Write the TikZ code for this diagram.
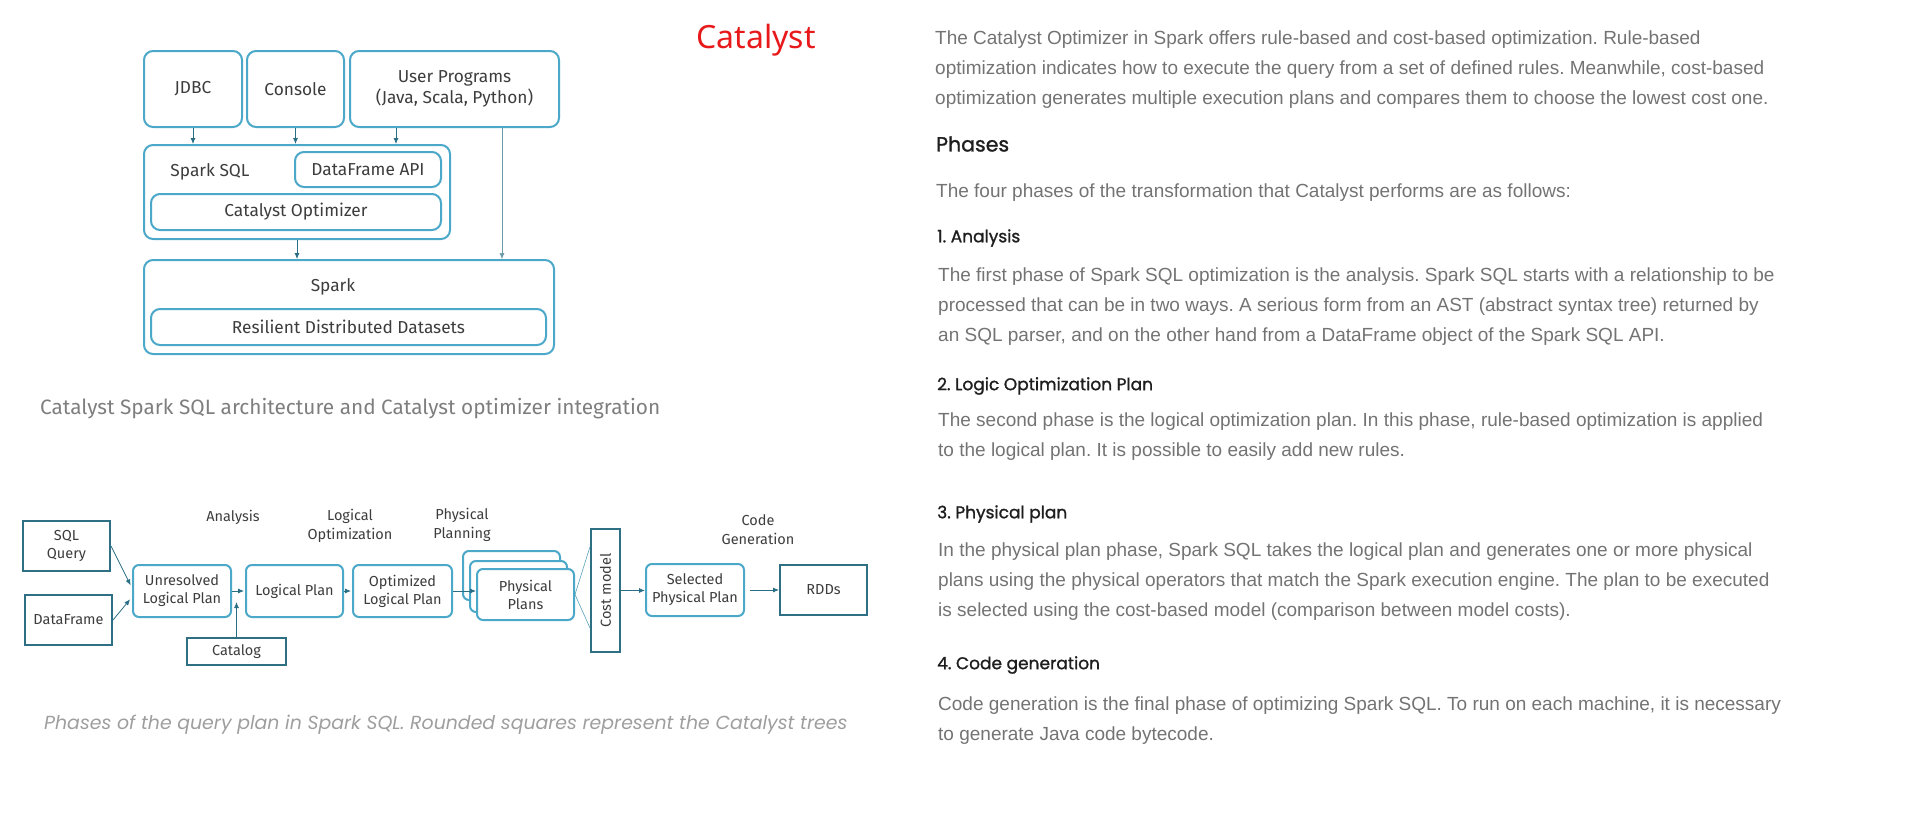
\documentclass[tikz,border=0pt]{standalone}
\usepackage{fontspec}
\usepackage{graphicx}
\setmainfont{Liberation Sans}
\newfontfamily\diafont{Fira Sans}
\newfontfamily\headfont[FakeBold=1.2]{Poppins}
\newfontfamily\capfont{Poppins}
\newfontfamily\titlefont{Noto Sans}
\usetikzlibrary{arrows.meta,calc,positioning}
\definecolor{lightblue}{HTML}{4BA8C8}
\definecolor{darkteal}{HTML}{2E6F84}
\definecolor{arrowteal}{HTML}{2A6E85}
\definecolor{diatext}{HTML}{3D3D3D}
\definecolor{bodygray}{HTML}{737373}
\definecolor{headgray}{HTML}{1E1E1E}
\definecolor{capgray}{HTML}{7E7E7E}
\definecolor{catred}{HTML}{E8191B}

\tikzset{
    topbox/.style={draw=lightblue, line width=2, rounded corners=9, fill=white,
        text=diatext, font=\diafont\fontsize{17.3}{21}\selectfont, align=center, inner sep=0},
    planbox/.style={draw=lightblue, line width=2, rounded corners=6, fill=white,
        text=diatext, font=\diafont\fontsize{14.5}{18}\selectfont, align=center, inner sep=0},
    sqbox/.style={draw=darkteal, line width=2, fill=white,
        text=diatext, font=\diafont\fontsize{14.5}{18}\selectfont, align=center, inner sep=0},
    phase/.style={text=diatext, font=\diafont\fontsize{14.5}{19}\selectfont, align=center, inner sep=0},
    arr/.style={draw=arrowteal, line width=0.8, -{Latex[length=6pt,width=5pt]}},
    thinarr/.style={draw=arrowteal!70, line width=0.6, -{Latex[length=6pt,width=5pt]}},
    fan/.style={draw=lightblue!80!gray, line width=0.6},
    body/.style={anchor=west, inner sep=0, align=left, text=bodygray,
        font=\fontsize{19}{30}\selectfont},
    heading/.style={anchor=west, inner sep=0, text=headgray,
        font=\headfont\fontsize{17}{20}\selectfont}
}

\begin{document}
\frenchspacing
\begin{tikzpicture}[x=1pt, y=-1pt]
    \useasboundingbox (0, 0) rectangle (1914, 817);

    % architecture: clients
    \node[topbox, minimum width=98, minimum height=76] (jdbc) at (193, 89) {JDBC};
    \node[topbox, minimum width=97, minimum height=76] (console) at (295.5, 89) {Console};
    \node[topbox, minimum width=209, minimum height=76] (userprog) at (454.5, 89)
        {User Programs\\(Java, Scala, Python)};
    % spark sql layer
    \node[topbox, minimum width=306, minimum height=94] (sqlbox) at (297, 192) {};
    \node[text=diatext, font=\diafont\fontsize{17.3}{21}\selectfont] (sqllabel) at (210, 172) {Spark SQL};
    \node[topbox, minimum width=146, minimum height=35] (dfapi) at (368, 169.5) {DataFrame API};
    \node[topbox, minimum width=290, minimum height=36] (catopt) at (296, 212) {Catalyst Optimizer};
    % spark layer
    \node[topbox, minimum width=410, minimum height=94] (spark) at (349, 307) {};
    \node[text=diatext, font=\diafont\fontsize{17.3}{21}\selectfont] (sparklabel) at (333, 287) {Spark};
    \node[topbox, minimum width=395, minimum height=36] (rdd) at (348.5, 327)
        {Resilient Distributed Datasets};
    % architecture arrows
    \foreach \src in {jdbc, console}{
        \draw[arr] (\src.south) -- (\src.south |- sqlbox.north);
    }
    \coordinate (upin) at ([xshift=-58.5]userprog.south);
    \coordinate (upout) at ([xshift=47.5]userprog.south);
    \draw[arr] (upin) -- (upin |- sqlbox.north);
    \draw[arr] (sqlbox.south) -- (sqlbox.south |- spark.north);
    \draw[thinarr] (upout) -- (upout |- spark.north);

    \node[anchor=west, inner sep=0, text=capgray, font=\diafont\fontsize{20.8}{24}\selectfont] (cap1)
        at (40, 409) {Catalyst Spark SQL architecture and Catalyst optimizer integration};

    % query plan phases: inputs
    \node[sqbox, minimum width=87, minimum height=50] (sqlq) at (66.5, 546) {SQL\\Query};
    \node[sqbox, minimum width=87, minimum height=50] (dframe) at (68.5, 620) {DataFrame};
    \node[sqbox, minimum width=99, minimum height=27] (catalog) at (236.5, 651.5) {Catalog};
    % plans
    \node[planbox, minimum width=98, minimum height=52] (unres) at (182, 591) {Unresolved\\Logical Plan};
    \node[planbox, minimum width=97, minimum height=52] (logical) at (294.5, 591) {Logical Plan};
    \node[planbox, minimum width=99, minimum height=52] (optim) at (402.5, 591) {Optimized\\Logical Plan};
    \node[planbox, minimum width=97, minimum height=49] (phys3) at (511.5, 575.5) {};
    \node[planbox, minimum width=97, minimum height=51] (phys2) at (518.5, 586.5) {};
    \node[planbox, minimum width=97, minimum height=51] (phys1) at (525.5, 594.5) {Physical\\Plans};
    \node[sqbox, minimum width=29, minimum height=123] (cost) at (605.5, 590.5)
        {\rotatebox{90}{Cost model}};
    \node[planbox, minimum width=98, minimum height=52] (selected) at (695, 590) {Selected\\Physical Plan};
    \node[sqbox, minimum width=87, minimum height=50] (rdds) at (823.5, 590) {RDDs};
    % phase labels
    \node[phase] (analysis) at (233, 517) {Analysis};
    \node[phase] (logopt) at (350, 526) {Logical\\Optimization};
    \node[phase] (physplan) at (462, 525) {Physical\\Planning};
    \node[phase] (codegen) at (758, 530) {Code\\Generation};
    % plan arrows
    \coordinate (catin) at (236.5, 602);
    \draw[arr, shorten >=3pt] (sqlq.east) -- ([yshift=3]unres.west);
    \draw[arr, shorten >=3pt] (dframe.east) -- ([yshift=-6]unres.west);
    \draw[arr, shorten >=1pt] (unres) -- (logical);
    \draw[arr] (catalog) -- (catin);
    \draw[arr, shorten >=1pt] (logical) -- (optim);
    \draw[arr] (optim.east) -- (optim.east -| phys1.west);
    \draw[fan] (phys1.east) -- ($(cost.north west)!0.15!(cost.south west)$);
    \draw[fan] (phys1.east) -- ($(cost.north west)!0.8!(cost.south west)$);
    \draw[arr] (cost.east) -- (cost.east -| selected.west);
    \draw[arr, shorten <=5pt] (selected.east) -- (selected.east -| rdds.west);

    \node[anchor=west, inner sep=0, text=capgray!75, font=\capfont\itshape\fontsize{18.9}{22}\selectfont] (cap2)
        at (44, 725) {Phases of the query plan in Spark SQL. Rounded squares represent the Catalyst trees};

    % title
    \node[text=catred, font=\titlefont\fontsize{32}{36}\selectfont] (title) at (756, 40) {Catalyst};

    % right column text
    \node[body] (intro) at (935, 70) {The Catalyst Optimizer in Spark offers rule-based and cost-based optimization. Rule-based\\
        optimization indicates how to execute the query from a set of defined rules. Meanwhile, cost-based\\
        optimization generates multiple execution plans and compares them to choose the lowest cost one.};
    \node[heading, font=\headfont\fontsize{20.5}{24}\selectfont] (phases) at (936, 144) {Phases};
    \node[body] (four) at (936, 193) {The four phases of the transformation that Catalyst performs are as follows:};
    \node[heading] (h1) at (937, 238) {1. Analysis};
    \node[body] (p1) at (938, 307) {The first phase of Spark SQL optimization is the analysis. Spark SQL starts with a relationship to be\\
        processed that can be in two ways. A serious form from an AST (abstract syntax tree) returned by\\
        an SQL parser, and on the other hand from a DataFrame object of the Spark SQL API.};
    \node[heading] (h2) at (937, 386) {2. Logic Optimization Plan};
    \node[body] (p2) at (938, 437) {The second phase is the logical optimization plan. In this phase, rule-based optimization is applied\\
        to the logical plan. It is possible to easily add new rules.};
    \node[heading] (h3) at (937, 514) {3. Physical plan};
    \node[body] (p3) at (938, 582) {In the physical plan phase, Spark SQL takes the logical plan and generates one or more physical\\
        plans using the physical operators that match the Spark execution engine. The plan to be executed\\
        is selected using the cost-based model (comparison between model costs).};
    \node[heading] (h4) at (937, 665) {4. Code generation};
    \node[body] (p4) at (938, 721) {Code generation is the final phase of optimizing Spark SQL. To run on each machine, it is necessary\\
        to generate Java code bytecode.};
\end{tikzpicture}
\end{document}
